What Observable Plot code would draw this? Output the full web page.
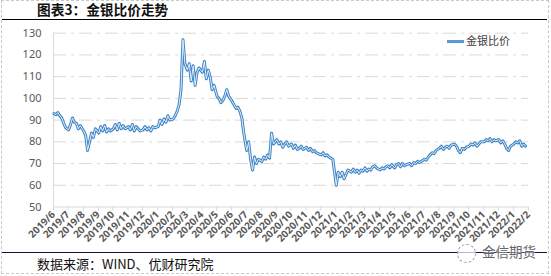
<!DOCTYPE html>
<html><head><meta charset="utf-8">
<script src="https://cdn.jsdelivr.net/npm/d3@7"></script>
<script src="https://cdn.jsdelivr.net/npm/@observablehq/plot@0.6"></script>
<style>
body{margin:0;background:#fff;}
#wrap{position:relative;width:551px;height:276px;overflow:hidden;font-family:"Noto Sans CJK SC",sans-serif;background:#fff;}
#border{position:absolute;left:1px;top:0px;width:546px;height:272px;border:1px dashed #c8c8c8;}
#title{position:absolute;left:37px;top:0px;height:19px;line-height:19px;font-size:13.7px;font-weight:bold;color:#111;white-space:nowrap;}
#rule1{position:absolute;left:2px;top:19px;width:545px;height:1px;background:#000;}
#chart{position:absolute;left:0;top:20px;}
#legend{position:absolute;left:447px;top:32px;font-size:11px;color:#404040;white-space:nowrap;line-height:16px;}
#legend .sw{display:inline-block;width:17px;height:3px;background:#5b9bd5;vertical-align:middle;margin-right:2px;position:relative;top:-1px;}
#rule2{position:absolute;left:2px;top:252px;width:545px;height:1px;background:#14144a;}
#caption{position:absolute;left:37px;top:256px;font-size:13px;color:#111;white-space:nowrap;line-height:16px;}
#wm{position:absolute;left:482px;top:243px;font-size:13.5px;color:#666;white-space:nowrap;line-height:17px;text-shadow:0 0 2px #fff,0 0 2px #fff;}
#wmicon{position:absolute;left:457px;top:244px;width:17px;height:17px;border:1px dashed #999;border-radius:50%;background:rgba(255,255,255,0.7);}
</style></head><body>
<div id="wrap">
  <div id="border"></div>
  <div id="title">图表3：金银比价走势</div>
  <div id="rule1"></div>
  <div id="chart"></div>
  <div id="legend"><span class="sw"></span>金银比价</div>
  <div id="rule2"></div>
  <div id="caption">数据来源：WIND、优财研究院</div>
  <div id="wmicon"></div>
  <div id="wm">金信期货</div>
</div>
<script>
const seriesName = "金银比价";
// sample months and days within each month
const months = ["2019-06","2019-07","2019-08","2019-09","2019-10","2019-11","2019-12",
"2020-01","2020-02","2020-03","2020-04","2020-05","2020-06","2020-07","2020-08","2020-09","2020-10","2020-11","2020-12",
"2021-01","2021-02","2021-03","2021-04","2021-05","2021-06","2021-07","2021-08","2021-09","2021-10","2021-11","2021-12",
"2022-01"];
const sampleDays = [2,6,10,14,18,22,26];
// gold/silver ratio readings, one row per month
const ratio = [
[93,92.5,93.5,92,91,88.5,86.5],
[85.5,88,91,89,88.5,86,87.5],
[85,83,76,80,84,82,86],
[84,87,85,87.5,84.5,86,85],
[86,88,85.5,88.5,86,87.5,86],
[87,85.5,88,85,87,86,85],
[85.5,87,85.5,86.5,85,87,86.5],
[87,90,88,90.5,89,92,90],
[90.5,92,94,97,104,127,116],
[113,116,108,115,106,112,114],
[112,117,109,113,110,104,106],
[101,100,98,99,101,104,101],
[98.6,97,95.4,96,94,91,84],
[76,80,72,67,73,70,72],
[71,73,72,74,72.5,84,79],
[81,79,80,77.5,79,80,78],
[79,77,78.5,76.5,77,78,76.5],
[77.5,76,77,75.5,76,75,74.5],
[74,75,73.5,74,73,72.5,72],
[60,66,64,66,63,65,67],
[66,67.5,66,67,65.5,67,66.5],
[68,66.5,67.5,67,68.5,69,68],
[67,68,67.5,68.5,69,68,69.5],
[68,69.5,70,68.5,70,69,69.5],
[70,69,70.5,70,71,70.5,71],
[72,71.5,73,74,75,74.5,76],
[77,78,76.5,77.5,78,77,78.5],
[79,78,76,75,77,76.5,77.5],
[78,79,78.5,79.5,78,79,80],
[80,81,80.5,81.5,80,81,80.5],
[81,79.5,80.5,79,77,76,78],
[79,80,79.5,80.5,78,79,78]
];
const yTicks = [50,60,70,80,90,100,110,120,130];
const xTickLabels = ["2019/6","2019/7","2019/8","2019/9","2019/10","2019/11","2019/12",
"2020/1","2020/2","2020/3","2020/4","2020/5","2020/6","2020/7","2020/8","2020/9","2020/10","2020/11","2020/12",
"2021/1","2021/2","2021/3","2021/4","2021/5","2021/6","2021/7","2021/8","2021/9","2021/10","2021/11","2021/12",
"2022/1","2022/2"];

const data = [];
months.forEach((m,i)=>{
  const [y,mo] = m.split("-").map(Number);
  sampleDays.forEach((d,j)=>data.push({date:new Date(Date.UTC(y,mo-1,d)), v:ratio[i][j]}));
});
const tickDates = xTickLabels.map(s=>{const [y,m]=s.split("/").map(Number);return new Date(Date.UTC(y,m-1,1));});
const x0 = tickDates[0], x1 = tickDates[tickDates.length-1];

const chart = Plot.plot({
  width:551, height:232,
  marginTop:12.7, marginBottom:45.5, marginLeft:53, marginRight:23,
  x:{type:"utc", domain:[x0,x1]},
  y:{domain:[50,130]},
  style:{fontFamily:"'Noto Sans', sans-serif", fontSize:"11px", color:"#595959", background:"transparent", overflow:"visible"},
  marks:[
    Plot.gridY(yTicks.filter(v=>v>50),{stroke:"#d9d9d9", strokeOpacity:1, strokeWidth:1, strokeDasharray:"13,5,3,5"}),
    Plot.ruleX([x0],{stroke:"#d9d9d9", strokeOpacity:1}),
    Plot.ruleY([50],{stroke:"#d9d9d9", strokeOpacity:1}),
    Plot.axisX(tickDates,{tickFormat:(d,i)=>xTickLabels[i], tickRotate:-45, tickSize:4, tickPadding:2, stroke:"#d9d9d9", strokeOpacity:1, fill:"#595959", fontWeight:"bold", fontSize:10, label:null}),
    Plot.axisY(yTicks,{tickSize:0, tickPadding:12, fill:"#595959", fontSize:11, label:null}),
    Plot.line(data,{x:"date", y:"v", stroke:"#3d85c6", strokeWidth:3, strokeLinejoin:"round"}),
    Plot.line(data,{x:"date", y:"v", stroke:"#e3eef9", strokeWidth:1, strokeLinejoin:"round"})
  ]
});
document.getElementById("chart").appendChild(chart);
</script>
</body></html>
